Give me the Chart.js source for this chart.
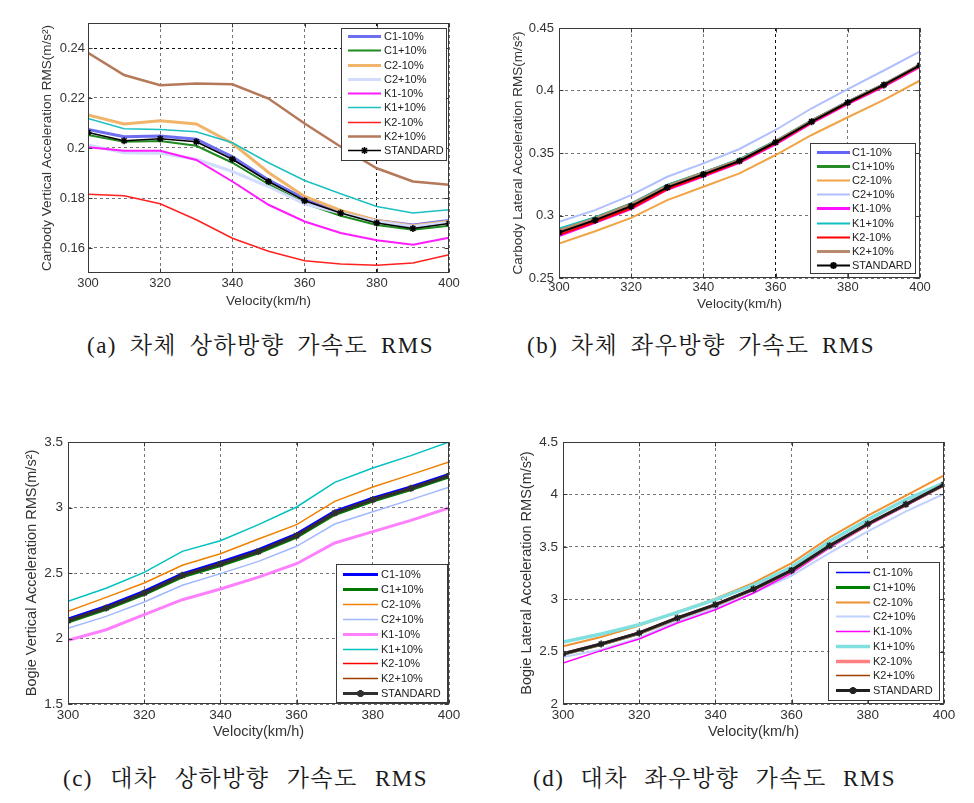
<!DOCTYPE html>
<html><head><meta charset="utf-8">
<script src="https://cdn.jsdelivr.net/npm/chart.js@4"></script>
<style>
body{margin:0;background:#fff;width:974px;height:803px;position:relative;overflow:hidden}
.box{position:absolute}
.box canvas{display:block}
.cap{position:absolute;font-family:"Liberation Serif","Noto Serif CJK KR","Noto Sans CJK KR",serif;font-size:23px;line-height:23px;letter-spacing:1.5px;color:#1a1a1a;white-space:pre}
</style></head><body>
<div class="box" style="left:0;top:0"><canvas id="ca" width="487" height="320" style="width:487px;height:320px"></canvas></div>
<div class="box" style="left:487px;top:0"><canvas id="cb" width="487" height="320" style="width:487px;height:320px"></canvas></div>
<div class="box" style="left:0;top:400px"><canvas id="cc" width="487" height="345" style="width:487px;height:345px"></canvas></div>
<div class="box" style="left:487px;top:400px"><canvas id="cd" width="487" height="345" style="width:487px;height:345px"></canvas></div>
<div class="cap" id="capA" data-l="87" data-r="434" style="top:334px">(a) 차체 상하방향 가속도 RMS</div>
<div class="cap" id="capB" data-l="527" data-r="875" style="top:334px">(b) 차체 좌우방향 가속도 RMS</div>
<div class="cap" id="capC" data-l="63" data-r="428" style="top:767px">(c) 대차 상하방향 가속도 RMS</div>
<div class="cap" id="capD" data-l="533" data-r="896" style="top:767px">(d) 대차 좌우방향 가속도 RMS</div>
<script>
// ---------- data ----------
const velocity = [300,310,320,330,340,350,360,370,380,390,400];
const velocityTicks = [300,320,340,360,380,400];
const seriesNames = ['C1-10%','C1+10%','C2-10%','C2+10%','K1-10%','K1+10%','K2-10%','K2+10%','STANDARD'];

// (a) Carbody vertical
const aTicks = [0.16,0.18,0.20,0.22,0.24];
const aTickLabels = ['0.16','0.18','0.2','0.22','0.24'];
const aC1m = [0.2074,0.2045,0.2048,0.2035,0.1965,0.1872,0.1798,0.1745,0.1710,0.1692,0.1710];
const aC1p = [0.2052,0.2025,0.2028,0.2009,0.1941,0.1855,0.1779,0.1729,0.1692,0.1673,0.1689];
const aC2m = [0.2132,0.2096,0.2109,0.2096,0.2019,0.1902,0.1806,0.1750,0.1710,0.1689,0.1706];
const aC2p = [0.2012,0.1981,0.1979,0.1955,0.1906,0.1846,0.1777,0.1740,0.1706,0.1686,0.1702];
const aK1m = [0.2003,0.1989,0.1989,0.1952,0.1866,0.1773,0.1706,0.1660,0.1631,0.1613,0.1641];
const aK1p = [0.2118,0.2077,0.2074,0.2065,0.2021,0.1941,0.1870,0.1817,0.1766,0.1740,0.1753];
const aK2m = [0.1815,0.1809,0.1777,0.1713,0.1639,0.1587,0.1549,0.1536,0.1531,0.1540,0.1573];
const aK2p = [0.2381,0.2292,0.2251,0.2258,0.2255,0.2198,0.2098,0.2005,0.1919,0.1866,0.1853];
const aStd = [0.2062,0.2029,0.2037,0.2025,0.1955,0.1866,0.1789,0.1740,0.1700,0.1678,0.1698];

// (b) Carbody lateral
const bTicks = [0.25,0.30,0.35,0.40,0.45];
const bTickLabels = ['0.25','0.3','0.35','0.4','0.45'];
const bC1m = [0.2870,0.2968,0.3080,0.3230,0.3333,0.3440,0.3590,0.3755,0.3907,0.4047,0.4203];
const bC1p = [0.2885,0.2980,0.3092,0.3240,0.3340,0.3445,0.3592,0.3757,0.3908,0.4048,0.4203];
const bC2m = [0.2775,0.2874,0.2981,0.3123,0.3230,0.3337,0.3484,0.3644,0.3786,0.3925,0.4080];
const bC2p = [0.2949,0.3043,0.3163,0.3310,0.3417,0.3532,0.3684,0.3858,0.4011,0.4160,0.4313];
const bK1m = [0.2840,0.2945,0.3055,0.3210,0.3315,0.3425,0.3572,0.3742,0.3895,0.4035,0.4192];
const bK1p = [0.2895,0.2985,0.3095,0.3245,0.3345,0.3450,0.3598,0.3760,0.3910,0.4050,0.4205];
const bK2m = [0.2845,0.2948,0.3058,0.3212,0.3318,0.3428,0.3578,0.3745,0.3898,0.4038,0.4195];
const bK2p = [0.2880,0.2975,0.3088,0.3235,0.3338,0.3442,0.3592,0.3756,0.3908,0.4048,0.4203];
const bStd = [0.2864,0.2963,0.3075,0.3225,0.3329,0.3436,0.3586,0.3751,0.3904,0.4045,0.4201];

// (c) Bogie vertical
const cTicks = [1.5,2,2.5,3,3.5];
const cTickLabels = ['1.5','2','2.5','3','3.5'];
const cC1m = [2.148,2.245,2.360,2.494,2.582,2.678,2.797,2.970,3.072,3.157,3.252];
const cC1p = [2.125,2.222,2.336,2.470,2.557,2.653,2.773,2.946,3.049,3.136,3.234];
const cC2m = [2.207,2.314,2.424,2.559,2.647,2.760,2.869,3.047,3.156,3.251,3.347];
const cC2p = [2.078,2.169,2.279,2.406,2.495,2.589,2.704,2.874,2.968,3.060,3.154];
const cK1m = [1.986,2.067,2.182,2.296,2.378,2.469,2.571,2.729,2.816,2.902,2.996];
const cK1p = [2.284,2.384,2.505,2.665,2.746,2.869,3.004,3.192,3.302,3.396,3.500];
const cK2m = [2.140,2.236,2.350,2.486,2.572,2.668,2.789,2.962,3.063,3.149,3.246];
const cK2p = [2.132,2.229,2.343,2.478,2.566,2.661,2.781,2.954,3.057,3.143,3.240];
const cStd = [2.136,2.233,2.347,2.482,2.569,2.665,2.785,2.958,3.060,3.146,3.243];

// (d) Bogie lateral
const dTicks = [2,2.5,3,3.5,4,4.5];
const dTickLabels = ['2','2.5','3','3.5','4','4.5'];
const dC1m = [2.486,2.578,2.684,2.826,2.953,3.102,3.280,3.516,3.722,3.909,4.096];
const dC1p = [2.474,2.568,2.672,2.816,2.943,3.092,3.270,3.506,3.714,3.901,4.090];
const dC2m = [2.550,2.639,2.748,2.878,3.005,3.155,3.345,3.590,3.797,3.988,4.182];
const dC2p = [2.449,2.518,2.630,2.789,2.916,3.059,3.225,3.441,3.648,3.838,4.004];
const dK1m = [2.391,2.509,2.620,2.773,2.900,3.059,3.250,3.489,3.702,3.892,4.083];
const dK1p = [2.592,2.668,2.757,2.875,2.996,3.133,3.307,3.552,3.759,3.950,4.109];
const dK2m = [2.478,2.571,2.676,2.819,2.946,3.095,3.272,3.508,3.716,3.903,4.091];
const dK2p = [2.483,2.576,2.681,2.824,2.951,3.100,3.278,3.514,3.720,3.907,4.095];
const dStd = [2.480,2.573,2.678,2.821,2.948,3.097,3.275,3.511,3.718,3.905,4.093];

// ---------- rendering ----------
const FONT = '"Liberation Sans", Arial, sans-serif';

const frameLegend = {
  id: 'frameLegend',
  afterDatasetsDraw(chart, args, o) {
    const {ctx, chartArea: a, scales: {x, y}} = chart;
    ctx.save();
    ctx.setLineDash([]);
    ctx.strokeStyle = '#3a3a3a'; ctx.lineWidth = 1;
    const L = Math.round(a.left) + 0.5, R = Math.round(a.right) - 0.5, T = Math.round(a.top) + 0.5, B = Math.round(a.bottom) - 0.5;
    ctx.strokeRect(L, T, R - L, B - T);
    ctx.beginPath();
    x.ticks.forEach(t => { const p = Math.round(x.getPixelForValue(t.value)) + 0.5; ctx.moveTo(p, B); ctx.lineTo(p, B - 4); ctx.moveTo(p, T); ctx.lineTo(p, T + 4); });
    y.ticks.forEach(t => { const p = Math.round(y.getPixelForValue(t.value)) + 0.5; ctx.moveTo(L, p); ctx.lineTo(L + 4, p); ctx.moveTo(R, p); ctx.lineTo(R - 4, p); });
    ctx.stroke();
    ctx.restore();
  },
  afterDraw(chart, args, o) {
    const lg = o.legend; const ctx = chart.ctx;
    ctx.save();
    ctx.setLineDash([]);
    ctx.fillStyle = '#fff'; ctx.fillRect(lg.x, lg.y, lg.w, lg.h);
    ctx.strokeStyle = '#3a3a3a'; ctx.lineWidth = 1; ctx.strokeRect(lg.x + 0.5, lg.y + 0.5, lg.w, lg.h);
    ctx.font = '11px ' + FONT; ctx.textBaseline = 'middle'; ctx.textAlign = 'left';
    chart.data.datasets.forEach((ds, i) => {
      const yy = Math.round(lg.row0 + i * lg.step) + 0.5;
      ctx.strokeStyle = ds.borderColor; ctx.lineWidth = ds.borderWidth;
      ctx.beginPath(); ctx.moveTo(lg.x0, yy); ctx.lineTo(lg.x1, yy); ctx.stroke();
      if (ds.pointRadius) {
        ctx.strokeStyle = ds.pointBorderColor; ctx.fillStyle = ds.pointBorderColor;
        Chart.helpers.drawPoint(ctx, {pointStyle: ds.pointStyle, radius: ds.pointRadius, borderWidth: ds.pointBorderWidth, rotation: 0}, (lg.x0 + lg.x1) / 2, yy);
      }
      ctx.fillStyle = '#222';
      ctx.fillText(ds.label, lg.tx, yy + 0.5);
    });
    ctx.restore();
  }
};

function build(id, P) {
  const datasets = P.series.map((arr, i) => ({
    label: seriesNames[i],
    data: velocity.map((v, k) => ({x: v, y: arr[k]})),
    borderColor: P.styles[i][0],
    borderWidth: P.styles[i][1],
    pointRadius: i === 8 ? 3.5 : 0,
    pointStyle: 'star',
    pointBorderWidth: 1.6,
    pointBorderColor: P.styles[i][0],
    pointBackgroundColor: P.styles[i][0],
    tension: 0,
    fill: false,
    order: 8 - i
  }));
  const gridColor = (special) => (ctx) => (ctx.tick && special.includes(ctx.tick.value)) ? '#111' : '#777';
  new Chart(document.getElementById(id), {
    type: 'line',
    data: {datasets},
    options: {
      responsive: false, animation: false, devicePixelRatio: 1,
      layout: {padding: P.pad},
      plugins: {legend: {display: false}, tooltip: {enabled: false}, frameLegend: {legend: P.legend}},
      scales: {
        x: {
          type: 'linear', min: 300, max: 400,
          afterBuildTicks: s => { s.ticks = velocityTicks.map(v => ({value: v})); },
          afterFit: s => { s.height = P.xH; },
          ticks: {autoSkip: false, maxRotation: 0, padding: P.xTickPad, color: '#333', font: {family: FONT, size: P.tickSize}, callback: (v) => String(v)},
          grid: {color: gridColor(P.specialX), lineWidth: 1, drawTicks: false},
          border: {display: false, dash: [3, 3]},
          title: {display: true, text: 'Velocity(km/h)', color: '#333', padding: 0, font: {family: FONT, size: P.titleSize}}
        },
        y: {
          type: 'linear', min: P.yMin, max: P.yMax,
          afterBuildTicks: s => { s.ticks = P.yTicks.map(v => ({value: v})); },
          afterFit: s => { s.width = P.yW; },
          ticks: {padding: P.yTickPad, color: '#333', font: {family: FONT, size: P.tickSize}, callback: (v, i) => P.yLabels[i]},
          grid: {color: gridColor(P.specialY), lineWidth: 1, drawTicks: false},
          border: {display: false, dash: [3, 3]},
          title: {display: true, text: P.yTitle, color: '#333', padding: 0, font: {family: FONT, size: P.titleSize}}
        }
      }
    },
    plugins: [frameLegend]
  });
}

build('ca', {
  series: [aC1m, aC1p, aC2m, aC2p, aK1m, aK1p, aK2m, aK2p, aStd],
  styles: [['#6e6ef2',3],['#1f8a1f',2],['#f0b46a',3],['#d2dcff',3],['#ff1cff',2],['#1cc0c0',1.5],['#ff2020',1.5],['#b5795a',2.5],['#000000',1.5]],
  pad: {left: 39, top: 23, right: 38, bottom: 11}, yW: 49, xH: 36, xTickPad: 3, yTickPad: 3,
  tickSize: 13, titleSize: 13.5, yMin: 0.15, yMax: 0.25, yTicks: aTicks, yLabels: aTickLabels,
  specialX: [380], specialY: [0.24],
  yTitle: 'Carbody Vertical Acceleration RMS(m/s²)',
  legend: {x: 341, y: 28, w: 105, h: 132, row0: 36, step: 14.25, x0: 348, x1: 381, tx: 384}
});
build('cb', {
  series: [bC1m, bC1p, bC2m, bC2p, bK1m, bK1p, bK2m, bK2p, bStd],
  styles: [['#6464f8',3],['#268a26',3],['#f0a446',2],['#b0c0ff',2],['#ff10ff',3],['#10c0c0',2],['#ff0000',2],['#b88a70',3],['#000000',2]],
  pad: {left: 23, top: 28, right: 54, bottom: 8}, yW: 49, xH: 34, xTickPad: 2, yTickPad: 5,
  tickSize: 13, titleSize: 13.5, yMin: 0.25, yMax: 0.45, yTicks: bTicks, yLabels: bTickLabels,
  specialX: [360], specialY: [],
  yTitle: 'Carbody Lateral Acceleration RMS(m/s²)',
  legend: {x: 323, y: 143, w: 105, h: 130, row0: 152, step: 14.1, x0: 330, x1: 363, tx: 365}
});
build('cc', {
  series: [cC1m, cC1p, cC2m, cC2p, cK1m, cK1p, cK2m, cK2p, cStd],
  styles: [['#0000ff',3],['#007800',3],['#f08000',1.5],['#a0b8ff',1.5],['#ff80ff',3],['#00c0c0',1.5],['#ff0000',1.5],['#a04000',1.5],['#303030',3]],
  pad: {left: 23, top: 42, right: 38, bottom: 4}, yW: 45, xH: 37, xTickPad: 3, yTickPad: 5,
  tickSize: 13.5, titleSize: 14.5, yMin: 1.5, yMax: 3.5, yTicks: cTicks, yLabels: cTickLabels,
  specialX: [], specialY: [],
  yTitle: 'Bogie Vertical Acceleration RMS(m/s²)',
  legend: {x: 336, y: 164, w: 111, h: 138, row0: 174, step: 14.9, x0: 343, x1: 378, tx: 381}
});
build('cd', {
  series: [dC1m, dC1p, dC2m, dC2p, dK1m, dK1p, dK2m, dK2p, dStd],
  styles: [['#0000ff',1.5],['#008000',3],['#f09030',2],['#c0d0ff',2],['#ff00ff',1.5],['#80e0e0',3.5],['#ff8080',3.5],['#a04000',1.5],['#202020',3]],
  pad: {left: 31, top: 42, right: 30, bottom: 4}, yW: 45, xH: 37, xTickPad: 3, yTickPad: 5,
  tickSize: 13.5, titleSize: 14.5, yMin: 2, yMax: 4.5, yTicks: dTicks, yLabels: dTickLabels,
  specialX: [], specialY: [],
  yTitle: 'Bogie Lateral Acceleration RMS(m/s²)',
  legend: {x: 341, y: 162, w: 111, h: 138, row0: 172, step: 14.75, x0: 349, x1: 383, tx: 386}
});

// captions: fit to measured width
document.querySelectorAll('.cap').forEach(el => {
  const l = +el.dataset.l, r = +el.dataset.r;
  el.style.left = l + 'px';
  el.style.wordSpacing = '0px';
  const w0 = el.getBoundingClientRect().width;
  const spaces = (el.textContent.match(/ /g) || []).length;
  el.style.wordSpacing = Math.max(0, (r - l - w0) / spaces) + 'px';
});
</script>
</body></html>
